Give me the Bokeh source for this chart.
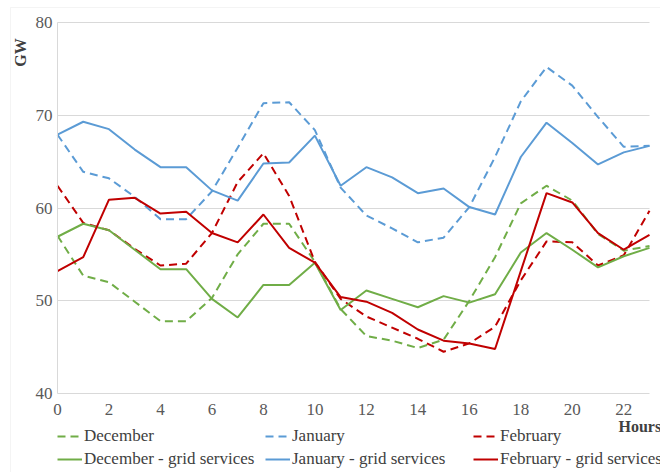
from bokeh.plotting import figure
from bokeh.models import FixedTicker, Legend, LegendItem, Label, Range1d, LinearAxis, Grid, BoxAnnotation
from bokeh.embed import file_html
from bokeh.resources import INLINE
import math

hours = list(range(24))
dec = [57.0, 52.7, 52.0, 49.9, 47.8, 47.8, 50.3, 55.0, 58.3, 58.3, 54.2, 49.1, 46.2, 45.7, 44.9, 45.8, 50.0, 54.7, 60.5, 62.4, 60.8, 57.2, 55.4, 55.9]
jan = [67.9, 63.9, 63.2, 61.2, 58.8, 58.8, 61.8, 66.5, 71.3, 71.4, 68.4, 62.2, 59.2, 57.8, 56.3, 56.8, 60.1, 65.5, 71.5, 75.2, 73.2, 69.8, 66.6, 66.7]
feb = [62.4, 58.4, 57.6, 55.6, 53.8, 54.0, 57.3, 62.8, 65.9, 61.3, 54.2, 50.2, 48.3, 47.1, 45.9, 44.5, 45.4, 47.2, 52.2, 56.4, 56.3, 53.8, 54.9, 59.7]
dec_grid = [56.9, 58.3, 57.6, 55.5, 53.4, 53.4, 50.2, 48.2, 51.7, 51.7, 54.1, 49.0, 51.1, 50.2, 49.3, 50.5, 49.8, 50.7, 55.2, 57.3, 55.5, 53.6, 54.8, 55.7]
jan_grid = [67.9, 69.3, 68.5, 66.3, 64.4, 64.4, 61.9, 60.8, 64.8, 64.9, 67.8, 62.4, 64.4, 63.3, 61.6, 62.1, 60.1, 59.3, 65.5, 69.2, 67.0, 64.7, 66.0, 66.7]
feb_grid = [53.2, 54.7, 60.9, 61.1, 59.4, 59.6, 57.3, 56.3, 59.3, 55.7, 54.1, 50.4, 49.9, 48.7, 46.9, 45.7, 45.4, 44.8, 53.2, 61.6, 60.6, 57.3, 55.5, 57.1]

x_ticks = list(range(0, 23, 2))
y_ticks = [40, 50, 60, 70, 80]
labels = ["December", "January", "February",
          "December - grid services", "January - grid services", "February - grid services"]
x_title = "Hours"
y_title = "GW"

GREEN = "#70AD47"
BLUE = "#5B9BD5"
RED = "#C00000"
FONT = "Times New Roman, Liberation Serif, serif"

# layout (pixels): the frame covers the whole figure; the plotting area sits inside it
W, H = 660, 472
PX_LEFT, PX_RIGHT = 57, 649      # x of first / last hour
PX_TOP, PX_BOTTOM = 22, 393      # y of y-max / y-min
x0, x1 = hours[0], hours[-1]
y0, y1 = y_ticks[0], y_ticks[-1]
ppx = (PX_RIGHT - PX_LEFT) / (x1 - x0)
ppy = (PX_BOTTOM - PX_TOP) / (y1 - y0)
x_range = Range1d(x0 - PX_LEFT / ppx, x1 + (W - PX_RIGHT) / ppx)
y_range = Range1d(y0 - (H - PX_BOTTOM) / ppy, y1 + PX_TOP / ppy)

p = figure(width=W, height=H, output_backend="svg", toolbar_location=None,
           x_range=x_range, y_range=y_range, title=None,
           x_axis_location=None, y_axis_location=None,
           min_border=0, min_border_left=0, min_border_right=0,
           min_border_top=0, min_border_bottom=0)
p.outline_line_color = None
p.background_fill_color = "white"
p.border_fill_color = "white"
p.grid.visible = False

# light chart-area border
p.add_layout(BoxAnnotation(left=10, right=W + 5, bottom=-5, top=H - 7,
                           left_units="screen", right_units="screen",
                           bottom_units="screen", top_units="screen",
                           fill_alpha=0, line_color="#d9d9d9", line_width=1))

xaxis = LinearAxis(ticker=FixedTicker(ticks=x_ticks), fixed_location=y0, bounds=(x0, x1))
yaxis = LinearAxis(ticker=FixedTicker(ticks=y_ticks), fixed_location=x0, bounds=(y0, y1))
for ax in (xaxis, yaxis):
    ax.major_tick_line_color = None
    ax.minor_tick_line_color = None
    ax.major_tick_out = 0
    ax.major_tick_in = 0
    ax.axis_line_color = "#d9d9d9"
    ax.major_label_text_font = FONT
    ax.major_label_text_font_size = "17px"
    ax.major_label_text_color = "#595959"
xaxis.major_label_standoff = 10
yaxis.major_label_standoff = 5
p.add_layout(xaxis, "below")
p.add_layout(yaxis, "left")

ygrid = Grid(dimension=1, ticker=FixedTicker(ticks=y_ticks[1:]), grid_line_color="#d9d9d9")
if "cross_bounds" in ygrid.properties():
    ygrid.cross_bounds = (x0, x1)
    p.add_layout(ygrid)
else:
    n = len(y_ticks) - 1
    p.segment(x0=[x0] * n, y0=y_ticks[1:], x1=[x1] * n, y1=y_ticks[1:],
              line_color="#d9d9d9", line_width=1)

dash = "8 5"
r_dec = p.line(hours, dec, line_color=GREEN, line_width=2, line_dash=dash)
r_jan = p.line(hours, jan, line_color=BLUE, line_width=2, line_dash=dash)
r_feb = p.line(hours, feb, line_color=RED, line_width=2, line_dash=dash)
r_decg = p.line(hours, dec_grid, line_color=GREEN, line_width=2)
r_jang = p.line(hours, jan_grid, line_color=BLUE, line_width=2)
r_febg = p.line(hours, feb_grid, line_color=RED, line_width=2)

renderers = [r_dec, r_jan, r_feb, r_decg, r_jang, r_febg]

leg = Legend(items=[LegendItem(label=l, renderers=[r]) for l, r in zip(labels, renderers)],
             location=(PX_LEFT, 3), orientation="horizontal", nrows=2,
             padding=0, margin=0, spacing=3, glyph_width=25, glyph_height=20,
             label_height=20, label_width=178, label_standoff=2,
             label_text_font=FONT, label_text_font_size="17px", label_text_color="#404040",
             border_line_color=None, background_fill_alpha=0)
p.add_layout(leg, "center")

p.add_layout(Label(x=618, y=H - 426, x_units="screen", y_units="screen", text=x_title,
                   text_align="left", text_baseline="middle",
                   text_font=FONT, text_font_size="16px", text_font_style="bold",
                   text_color="#404040"))
p.add_layout(Label(x=20, y=H - 52, x_units="screen", y_units="screen", text=y_title,
                   angle=math.pi / 2, text_align="center", text_baseline="middle",
                   text_font=FONT, text_font_size="16px", text_font_style="bold",
                   text_color="#404040"))

open("out.html", "w").write(file_html(p, INLINE))
